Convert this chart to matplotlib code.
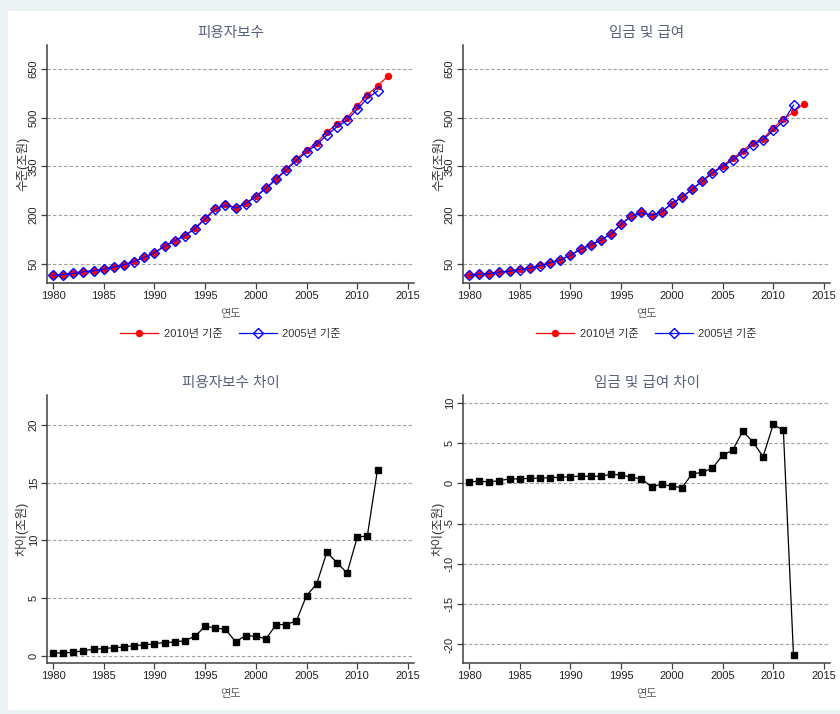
import matplotlib
matplotlib.use('Agg')
import matplotlib.pyplot as plt
from matplotlib.patches import Rectangle

plt.rcParams['font.family'] = ['Liberation Sans', 'Noto Sans CJK KR']
plt.rcParams['axes.unicode_minus'] = False

# 연도
years_2010 = list(range(1980, 2014))
years_2005 = list(range(1980, 2013))

# 피용자보수 (조원)
comp_2010 = [14, 16, 20, 25, 28, 33, 40, 47, 57, 70, 84, 104, 121, 137, 159, 190, 220,
             233, 222, 236, 258, 283, 312, 341, 371, 399, 423, 455, 480, 499, 536, 570,
             598, 627]
comp_2005 = [13.8, 15.8, 19.7, 24.6, 27.4, 32.4, 39.3, 46.3, 56.1, 69.1, 83.0, 102.9,
             119.8, 135.7, 157.3, 187.5, 217.6, 230.7, 220.8, 234.3, 256.3, 281.6, 309.3,
             338.3, 368.0, 393.8, 416.8, 446.0, 471.9, 491.8, 525.7, 559.6, 581.9]

# 임금 및 급여 (조원)
wage_2010 = [14, 17, 19, 24, 27, 32, 36, 44, 53, 62, 76, 95, 108, 123, 142, 172, 197,
             208, 198, 209, 235, 254, 280, 305, 331, 352, 374, 398, 422, 435, 468, 495,
             517, 543]
wage_2005 = [13.8, 16.75, 18.8, 23.7, 26.5, 31.5, 35.4, 43.4, 52.3, 61.3, 75.2, 94.1,
             107.1, 122.1, 140.9, 171.0, 196.3, 207.5, 198.5, 209.1, 235.4, 254.5, 278.8,
             303.6, 329.1, 348.5, 369.9, 391.5, 416.9, 431.7, 460.7, 488.4, 538.3]

# 차이 (조원)
comp_diff = [0.23, 0.23, 0.29, 0.43, 0.55, 0.61, 0.69, 0.75, 0.87, 0.92, 1.04, 1.13,
             1.18, 1.30, 1.68, 2.54, 2.40, 2.28, 1.21, 1.73, 1.68, 1.45, 2.69, 2.69,
             3.01, 5.20, 6.21, 8.96, 8.06, 7.17, 10.26, 10.40, 16.13]
wage_diff = [0.17, 0.25, 0.17, 0.33, 0.54, 0.54, 0.62, 0.62, 0.70, 0.74, 0.83, 0.87,
             0.87, 0.87, 1.11, 1.03, 0.74, 0.54, -0.45, -0.12, -0.37, -0.54, 1.16, 1.36,
             1.86, 3.47, 4.09, 6.48, 5.12, 3.30, 7.30, 6.56, -21.34]

xticks = [1980, 1985, 1990, 1995, 2000, 2005, 2010, 2015]
level_ticks = [50, 200, 350, 500, 650]
comp_diff_ticks = [0, 5, 10, 15, 20]
wage_diff_ticks = [-20, -15, -10, -5, 0, 5, 10]

title_color = '#56607a'
text_color = '#333333'

fig = plt.figure(figsize=(8.4, 7.14), dpi=100, facecolor='#eaf2f3')
fig.patches.append(Rectangle((8 / 840, 4 / 714), 1 - 8 / 840, 1 - 15 / 714,
                             transform=fig.transFigure, facecolor='white',
                             edgecolor='none', zorder=-1))


def style_axes(ax, title, ylabel, yticks, ylim, h_px):
    ax.set_facecolor('none')
    ax.set_xlim(1979.4, 2015.6)
    ax.set_ylim(*ylim)
    ax.set_xticks(xticks)
    ax.set_yticks(yticks)
    for s in ['top', 'right']:
        ax.spines[s].set_visible(False)
    for s in ['left', 'bottom']:
        ax.spines[s].set_color('#404040')
        ax.spines[s].set_linewidth(1.1)
    ax.tick_params(axis='both', length=4, width=0.9, color='#404040',
                   labelsize=8, labelcolor='#222222', pad=2)
    ax.tick_params(axis='y', labelrotation=90)
    for lbl in ax.get_yticklabels():
        lbl.set_va('center')
    ax.grid(axis='y', color='#a0a0a0', linestyle=(0, (3, 2)), linewidth=0.8)
    ax.set_axisbelow(True)
    ax.text(0.5, 1 + 12 / h_px, title, transform=ax.transAxes, ha='center',
            va='center', fontsize=10.5, color=title_color)
    ax.set_ylabel(ylabel, fontsize=9, color=text_color)
    ax.yaxis.set_label_coords(-18 / 367, 0.5)
    ax.set_xlabel('연도', fontsize=8, color='#555555')
    ax.xaxis.set_label_coords(0.5, -26 / h_px)


w = 367 / 840
top_h = 238 / 714
bot_h = 268 / 714

ax1 = fig.add_axes([47 / 840, 1 - 283 / 714, w, top_h])
ax2 = fig.add_axes([463 / 840, 1 - 283 / 714, w, top_h])
ax3 = fig.add_axes([47 / 840, 1 - 663 / 714, w, bot_h])
ax4 = fig.add_axes([463 / 840, 1 - 663 / 714, w, bot_h])

for ax, v10, v05, title in [(ax1, comp_2010, comp_2005, '피용자보수'),
                            (ax2, wage_2010, wage_2005, '임금 및 급여')]:
    ax.plot(years_2010, v10, color='red', lw=0.9, marker='o', ms=4.3,
            mfc='red', mec='red', label='2010년 기준')
    ax.plot(years_2005, v05, color='blue', lw=0.9, marker='D', ms=4.8,
            mfc='none', mec='blue', mew=1.0, label='2005년 기준')
    style_axes(ax, title, '수준(조원)', level_ticks, (-10, 724), 238)
    leg = ax.legend(loc='center', bbox_to_anchor=(0.5, -51 / 238), ncol=2,
                    frameon=False, fontsize=8, handlelength=3.4,
                    handletextpad=0.5, columnspacing=1.5)
    for t in leg.get_texts():
        t.set_color(text_color)

ax3.plot(years_2005, comp_diff, color='black', lw=0.9, marker='s', ms=3.8)
style_axes(ax3, '피용자보수 차이', '차이(조원)', comp_diff_ticks, (-0.64, 22.6), 268)

ax4.plot(years_2005, wage_diff, color='black', lw=0.9, marker='s', ms=3.8)
style_axes(ax4, '임금 및 급여 차이', '차이(조원)', wage_diff_ticks, (-22.3, 10.95), 268)

fig.savefig('out.png', dpi=100, facecolor=fig.get_facecolor())
